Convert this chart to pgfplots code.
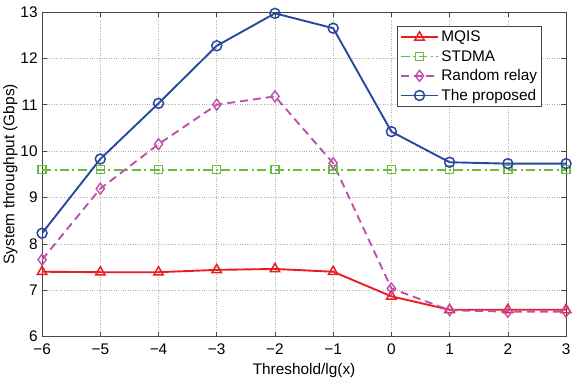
\documentclass[border=0pt]{standalone}
\usepackage{fontspec}
\setmainfont{Liberation Sans}
\usepackage{pgfplots}
\pgfplotsset{compat=1.18}
\definecolor{mqisred}{RGB}{236,28,36}
\definecolor{stdmagreen}{RGB}{104,190,60}
\definecolor{relaymag}{RGB}{190,80,170}
\definecolor{propblue}{RGB}{40,72,160}
\definecolor{axisgray}{RGB}{70,70,70}

\begin{document}
\begin{tikzpicture}
\begin{axis}[
  name=main,
  scale only axis, width=526bp, height=326bp,
  xmin=-6, xmax=3, ymin=6, ymax=13,
  xtick={-6,-5,-4,-3,-2,-1,0,1,2,3},
  xticklabels={−6,−5,−4,−3,−2,−1,0,1,2,3},
  ytick={6,7,8,9,10,11,12,13},
  font=\fontsize{15.5}{18}\selectfont,
  /pgf/number format/assume math mode=true,
  tick align=inside, major tick length=5bp,
  tick style={axisgray, line width=0.6bp},
  axis line style={axisgray, line width=0.8bp},
  grid=major, grid style={dotted, gray!60, line width=0.6bp},
  xticklabel style={yshift=-4bp},
  yticklabel style={xshift=-1bp},
  xlabel={Threshold/lg(x)}, ylabel={System throughput (Gbps)},
  xlabel style={yshift=-1bp},
  ylabel style={yshift=-4bp},
  legend style={at={(0.953,0.957)}, anchor=north east, draw=axisgray,
    line width=0.6bp, font=\fontsize{15.5}{19}\selectfont, row sep=3bp,
    inner xsep=2bp, inner ysep=3bp},
  legend cell align=left,
  legend image code/.code={
    \draw[mark repeat=2, mark phase=2, #1] plot coordinates {(0bp,0bp) (19bp,0bp) (38bp,0bp)};},
]
\addplot[mqisred, line width=1.9bp, mark=triangle, mark size=5.5bp,
  mark options={solid, fill=white, line width=1.5bp}]
  coordinates {(-6,7.40) (-5,7.39) (-4,7.39) (-3,7.44) (-2,7.46) (-1,7.40) (0,6.87) (1,6.58) (2,6.58) (3,6.58)};
\addplot[stdmagreen, line width=1.9bp, dash pattern=on 9bp off 3.5bp on 2bp off 3.5bp,
  mark=square, mark size=4bp, mark options={solid, fill=white, line width=1.4bp}]
  coordinates {(-6,9.6) (-5,9.6) (-4,9.6) (-3,9.6) (-2,9.6) (-1,9.6) (0,9.6) (1,9.6) (2,9.6) (3,9.6)};
\addplot[relaymag, line width=1.9bp, dash pattern=on 8bp off 5bp,
  mark=diamond, mark size=5.5bp, mark options={solid, fill=white, line width=1.4bp}]
  coordinates {(-6,7.66) (-5,9.19) (-4,10.15) (-3,11.0) (-2,11.18) (-1,9.74) (0,7.04) (1,6.57) (2,6.54) (3,6.54)};
\addplot[propblue, line width=1.9bp, mark=o, mark size=5bp,
  mark options={solid, fill=white, line width=1.5bp}]
  coordinates {(-6,8.23) (-5,9.83) (-4,11.03) (-3,12.27) (-2,12.97) (-1,12.65) (0,10.42) (1,9.76) (2,9.73) (3,9.73)};
\legend{MQIS,STDMA,Random relay,The proposed}
\end{axis}
\path ([yshift=12bp]main.north east) ++(9bp,0) coordinate (tr);
\path (tr);
\end{tikzpicture}
\end{document}
